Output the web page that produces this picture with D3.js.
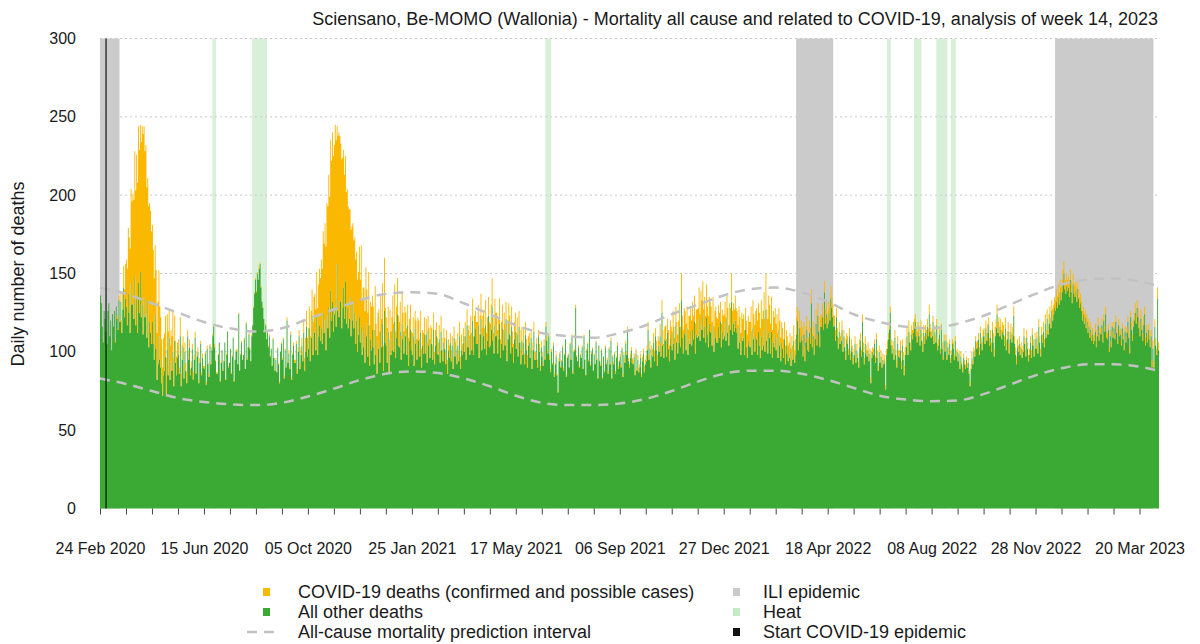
<!DOCTYPE html>
<html>
<head>
<meta charset="utf-8">
<script src="https://cdn.jsdelivr.net/npm/d3@7"></script>
<style>
  body { margin: 0; background: #fff; }
  svg { display: block; }
  text { font-family: "Liberation Sans", Arial, sans-serif; fill: #1a1a1a; }
</style>
</head>
<body>
<svg id="chart" width="1200" height="644"></svg>
<script>
// Be-MOMO Wallonia: daily deaths from Monday 24 Feb 2020, one row per week (Mon..Sun)
const startDate = "2020-02-24";

const otherDeaths = [
  136,131,116,106,126,121,113, 105,126,131,110,120,101,124, 116,126,106,129,121,114,133, 119,132,112,127,141,122,134,
  129,117,137,125,112,144,130, 131,121,148,117,136,112,144, 125,151,122,130,111,134,122, 124,109,133,103,119,112,105,
  119,105,95,124,102,82,92, 110,95,90,80,72,85,88, 97,72,102,85,109,82,94, 88,100,78,107,93,85,96,
  98,86,110,78,95,103,83, 100,88,80,110,95,103,85, 90,102,82,95,109,86,97, 100,80,93,105,85,96,90,
  89,99,79,102,92,84,104, 92,101,110,116,103,94,86, 86,98,106,81,93,101,88, 94,106,82,98,113,90,93,
  102,86,97,109,81,95,100, 101,92,124,88,98,106,95, 98,108,89,118,95,103,111, 102,94,110,117,128,137,146,
  138,150,146,153,156,141,132, 128,121,113,117,108,112,103, 110,97,102,91,108,96,88, 95,87,102,92,80,100,105,
  95,108,83,101,90,120,93, 99,89,111,82,98,104,93, 93,105,86,100,110,89,98, 104,94,112,88,100,116,97,
  102,115,94,109,121,98,112, 113,101,123,98,110,117,107, 115,105,125,112,120,101,123, 115,129,109,139,120,132,113,
  124,129,116,156,126,122,132, 133,115,128,141,121,145,118, 128,115,121,135,110,120,132, 115,125,105,120,100,111,122,
  106,116,98,113,103,93,118, 110,97,117,91,108,101,114, 103,92,114,98,86,107,102, 93,113,103,118,88,126,106,
  104,93,113,86,108,98,101, 114,100,119,96,109,124,104, 103,113,95,118,108,99,111, 110,98,117,91,107,114,101,
  98,110,91,115,105,95,108, 107,97,112,90,104,99,111, 99,111,93,114,104,96,107, 105,95,114,92,104,110,99,
  98,108,93,113,101,94,106, 102,92,108,86,101,96,106, 94,104,89,109,97,102,92, 104,94,110,89,101,98,106,
  100,110,95,117,103,108,98, 111,101,120,98,110,115,105, 105,117,96,111,121,101,110, 112,102,117,98,107,123,103,
  104,114,129,107,99,117,110, 111,99,108,118,96,105,115, 101,113,104,121,94,108,117, 111,99,116,103,93,108,113,
  102,111,97,116,106,92,107, 98,106,92,111,101,90,104, 106,96,109,89,101,113,95, 95,105,90,110,100,88,103,
  97,91,104,95,116,107,99, 110,95,87,100,92,104,84, 92,97,85,74,94,99,90, 94,103,88,98,108,84,96,
  98,90,105,95,110,86,100, 101,128,97,94,103,90,98, 96,103,89,110,95,85,101, 105,94,114,91,99,102,88,
  98,92,106,95,83,104,94, 91,101,83,97,87,103,92, 95,86,102,92,107,83,97, 92,99,86,96,104,89,94,
  97,90,102,84,98,93,105, 98,113,94,90,96,101,93, 92,97,85,99,88,95,87, 90,96,84,94,99,87,92,
  94,101,114,95,102,90,98, 97,106,94,110,101,91,104, 100,110,97,125,104,96,108, 107,97,112,102,94,109,104,
  101,113,105,95,117,106,99, 106,116,103,133,109,99,112, 111,101,115,98,108,105,113, 104,114,108,119,99,111,109,
  110,121,107,117,114,124,109, 116,106,122,111,103,118,113, 112,104,117,100,109,114,106, 106,116,109,119,103,113,108,
  110,119,107,122,112,104,117, 114,132,111,118,113,120,115, 112,102,116,106,98,110,107, 109,98,114,103,96,107,104,
  103,112,98,115,108,100,110, 108,98,113,104,96,110,101, 104,114,100,127,107,99,112, 109,99,113,96,106,103,111,
  101,109,96,114,104,94,106, 102,96,108,92,104,99,94, 96,103,91,100,95,107,93, 98,111,120,101,115,106,110,
  107,97,111,94,106,114,101, 100,112,105,131,103,110,98, 108,118,104,123,113,103,116, 116,122,114,138,118,124,115,
  118,125,120,134,128,122,116, 117,107,122,110,102,113,105, 107,114,100,110,103,95,108, 105,98,110,95,103,100,92,
  98,105,93,101,96,90,103, 107,97,119,100,92,105,99, 97,101,94,99,80,96,100, 98,105,93,108,96,88,100,
  93,97,90,95,92,94,76, 98,102,108,114,125,104,99, 102,95,109,98,90,105,97, 96,101,89,104,95,85,98,
  103,110,98,113,106,101,111, 108,112,115,119,110,106,113, 110,104,114,107,100,112,105, 112,108,116,110,124,113,109,
  110,119,105,113,106,117,101, 104,111,99,114,102,95,107, 100,107,95,103,98,105,93, 98,105,102,95,107,97,100,
  94,99,89,97,92,87,96, 92,89,95,90,93,86,78, 89,96,92,100,97,107,102, 103,108,98,112,105,101,110,
  110,105,115,107,112,117,104, 109,100,114,106,97,110,115, 124,112,116,110,114,108,113, 111,104,115,101,108,113,99,
  108,112,106,110,123,105,98, 92,103,100,105,98,102,96, 100,110,105,97,109,102,94, 98,106,96,111,104,97,108,
  102,109,99,116,106,97,111, 106,113,103,118,109,121,111, 118,122,115,126,120,124,128, 126,132,128,135,130,138,133,
  138,143,150,140,137,142,139, 141,135,146,138,131,143,137, 135,139,132,140,134,128,131, 126,120,124,118,122,115,119,
  112,116,109,114,107,111,105, 107,113,103,110,117,107,112, 111,117,106,120,113,124,109, 108,114,100,110,103,116,109,
  115,108,119,112,105,117,110, 111,104,115,108,101,113,106, 112,119,109,99,122,114,107, 116,120,125,118,128,122,115,
  110,121,114,107,117,124,104, 112,106,114,108,103,110,90, 102,90,116,104,98,134,101
];

const covidDeaths = [
  0,0,0,0,0,0,0, 0,0,0,0,0,0,0, 0,0,1,0,2,1,3, 4,6,8,11,14,18,22,
  30,36,42,48,54,60,66, 70,76,80,86,90,96,100, 104,94,112,114,128,110,106, 108,96,78,90,76,78,72,
  62,60,52,44,50,30,40, 42,34,32,28,18,24,24, 26,24,22,28,18,22,20, 22,26,18,16,14,12,10,
  10,4,12,8,9,7,9, 6,5,7,4,6,5,4, 4,3,5,3,4,2,3, 3,2,3,2,2,3,1,
  2,1,2,2,1,2,1, 1,2,1,1,2,1,1, 1,1,0,1,1,0,1, 1,0,1,1,0,1,0,
  0,1,1,0,1,0,1, 1,0,1,0,1,1,0, 0,1,0,1,1,0,1, 1,0,1,0,1,1,1,
  1,1,0,2,1,1,0, 1,0,1,1,0,1,1, 1,1,0,1,1,0,1, 1,0,1,1,1,0,1,
  1,1,2,1,1,2,1, 2,1,2,2,1,2,2, 2,2,3,3,4,4,5, 5,6,7,8,9,10,12,
  13,14,16,17,19,21,23, 24,26,28,30,33,36,40, 44,48,52,57,62,66,72, 78,84,90,96,102,108,112,
  108,116,119,88,112,118,106, 100,108,96,88,92,80,84, 76,78,70,56,68,60,50, 56,48,54,44,46,40,45,
  40,52,36,28,38,33,36, 30,28,34,26,24,28,22, 26,22,28,20,24,18,25, 20,24,18,26,16,34,22,
  18,22,16,20,19,15,21, 22,18,24,17,20,23,19, 16,19,15,21,17,14,18, 15,17,13,18,14,16,12,
  14,12,16,11,15,13,14, 13,11,14,12,10,13,11, 12,10,13,9,11,12,10, 10,9,11,8,10,9,10,
  8,9,7,10,8,7,9, 7,8,6,9,7,8,6, 7,6,8,7,9,6,7, 8,7,9,8,10,7,9,
  10,9,12,10,11,9,12, 12,11,14,12,13,11,14, 14,13,15,12,16,14,13, 15,13,16,14,15,12,16,
  14,16,18,15,13,17,15, 14,15,13,16,12,14,15, 13,12,14,11,13,12,14, 12,11,13,10,12,11,12,
  10,11,9,10,8,10,9, 8,9,7,8,7,8,6, 6,7,5,6,5,6,5, 5,4,5,4,5,3,4,
  3,3,4,2,3,3,2, 2,3,2,2,1,2,2, 1,2,1,1,2,1,1, 1,1,2,1,0,1,1,
  1,0,1,1,1,2,1, 1,2,1,0,1,1,1, 0,1,1,1,0,1,1, 1,1,0,1,1,1,0,
  1,0,1,1,1,0,1, 1,1,1,0,1,1,1, 1,2,1,1,2,1,1, 2,1,2,1,2,2,1,
  2,2,1,2,2,3,2, 2,3,2,2,3,2,3, 3,2,3,3,2,3,3, 2,3,2,3,3,4,3,
  4,3,5,4,5,4,6, 5,6,7,5,6,7,6, 7,8,9,8,10,9,8, 10,11,9,12,10,11,12,
  12,13,11,14,12,13,12, 14,15,13,17,14,15,16, 15,17,14,16,15,18,16, 16,18,15,17,19,16,18,
  18,20,17,22,19,21,18, 19,17,21,18,20,17,19, 17,15,18,16,17,15,16, 15,14,16,13,15,14,15,
  14,13,15,14,16,13,14, 14,18,15,13,14,16,13, 14,15,13,16,14,15,14, 15,16,14,17,15,16,15,
  16,17,15,18,16,17,16, 20,22,18,21,19,23,20, 22,24,21,23,20,22,24, 21,19,22,18,20,19,17,
  17,15,16,14,16,15,13, 13,12,11,12,10,11,10, 10,9,11,10,9,10,8, 10,11,9,10,11,9,10,
  9,10,8,9,10,9,8, 9,8,10,9,8,9,10, 8,9,7,8,9,8,7, 8,9,8,7,9,8,7,
  8,7,9,8,7,8,7, 6,7,6,5,7,6,5, 5,6,5,4,6,5,4, 5,4,5,4,5,4,4,
  4,5,4,4,3,4,5, 5,4,5,6,4,5,5, 4,5,4,3,4,4,3, 4,3,4,4,5,3,4,
  4,4,3,4,3,4,3, 4,5,4,5,4,4,5, 5,4,5,4,5,5,4, 5,6,5,4,5,6,5,
  6,5,6,7,6,5,6, 6,7,6,5,6,7,6, 6,5,6,5,6,5,5, 5,6,5,5,6,5,4,
  5,4,5,4,5,4,4, 4,4,3,4,4,3,4, 3,4,3,3,4,3,3, 3,3,4,3,3,3,2,
  3,2,3,3,2,3,3, 3,3,2,3,3,2,3, 3,4,3,3,4,3,4, 4,4,5,4,4,5,4,
  5,4,5,5,6,5,5, 5,6,5,6,5,6,6, 6,7,6,6,7,6,6, 6,6,7,6,5,6,6,
  5,6,5,6,6,5,5, 5,5,4,5,5,4,5, 4,5,4,4,5,4,4, 4,4,5,4,4,5,4,
  5,4,5,5,4,5,5, 5,6,5,6,5,6,6, 6,7,6,7,7,6,7, 7,8,7,8,7,8,8,
  8,9,8,7,8,8,7, 7,8,7,7,6,7,7, 7,6,7,6,6,7,6, 6,6,5,6,5,6,5,
  5,5,4,5,5,4,5, 4,5,4,4,5,4,4, 4,4,5,4,4,5,4, 4,4,3,4,4,3,4,
  4,3,4,4,3,4,4, 4,4,3,4,4,3,4, 4,4,5,4,4,5,4, 5,5,6,5,5,6,5,
  5,6,5,5,6,5,5, 5,5,4,5,5,4,5, 5,4,5,5,4,7,5
];

// All-cause mortality prediction interval, sampled every four weeks (days since start)
const predictionDays  = [0,28,56,84,112,140,168,196,224,252,280,308,336,364,392,420,448,476,504,532,560,588,616,644,672,700,728,756,784,812,840,868,896,924,952,980,1008,1036,1064,1092,1120,1140];
const predictionUpper = [141,137,131,125,119,115,113,115,121,127,133,137,138,137,131,124,117,112,110,109,112,117,124,130,136,140,141,138,132,124,119,116,115,118,123,130,137,143,146,147,145,142];
const predictionLower = [83,79.5,75,70.5,68,66.5,66,67.5,71.5,76.5,82,86,87.5,86.5,83,78,72,67.5,66,66,67,70,75,81,86,88,88,86,82,77,72,69.5,68.5,69,73,79,85,89.5,92,92,90.5,88];

const iliPeriods = [["2020-02-24","2020-03-16"],["2022-03-15","2022-04-24"],["2022-12-19","2023-04-04"]];
const heatPeriods = [["2020-06-24","2020-06-28"],["2020-08-06","2020-08-22"],["2021-06-18","2021-06-24"],
                     ["2022-06-21","2022-06-25"],["2022-07-20","2022-07-28"],["2022-08-13","2022-08-25"],["2022-08-29","2022-09-03"]];
const covidStart = "2020-03-01";

const yTicks = [0,50,100,150,200,250,300];
const xLabelDates = ["2020-02-24","2020-06-15","2020-10-05","2021-01-25","2021-05-17","2021-09-06","2021-12-27","2022-04-18","2022-08-08","2022-11-28","2023-03-20"];

const titleText = "Sciensano, Be-MOMO (Wallonia) - Mortality all cause and related to COVID-19, analysis of week 14, 2023";
const yLabel = "Daily number of deaths";
const legendLeft = ["COVID-19 deaths (confirmed and possible cases)", "All other deaths", "All-cause mortality prediction interval"];
const legendRight = ["ILI epidemic", "Heat", "Start COVID-19 epidemic"];

const colors = { covid: "#fbb800", other: "#3aaa35", ili: "#cbcbcb", heat: "#d8efd8", heatKey: "#c2ebc2", pred: "#c2c2c2", start: "#111" };

// ---- scales ----
const parse = d3.utcParse("%Y-%m-%d");
const t0 = parse(startDate);
const rows = otherDeaths.map((v, i) => ({ date: d3.utcDay.offset(t0, i), other: v, covid: covidDeaths[i] }));
const tEnd = d3.utcDay.offset(t0, rows.length);

const x = d3.scaleUtc().domain([t0, tEnd]).range([100, 1159]);
const y = d3.scaleLinear().domain([0, 300]).range([508.5, 38.5]);

const svg = d3.select("#chart");

// ---- epidemic / heat periods ----
const bands = svg.append("g");
bands.selectAll("rect.ili").data(iliPeriods).join("rect")
  .attr("x", d => x(parse(d[0]))).attr("width", d => x(parse(d[1])) - x(parse(d[0])))
  .attr("y", y(300)).attr("height", y(0) - y(300)).attr("fill", colors.ili);
bands.selectAll("rect.heat").data(heatPeriods).join("rect")
  .attr("x", d => x(parse(d[0]))).attr("width", d => x(parse(d[1])) - x(parse(d[0])))
  .attr("y", y(300)).attr("height", y(0) - y(300)).attr("fill", colors.heat);

// ---- grid ----
svg.append("g").selectAll("line").data(yTicks.filter(v => v > 0)).join("line")
  .attr("x1", 100).attr("x2", 1160).attr("y1", d => y(d)).attr("y2", d => y(d))
  .attr("stroke", "#c8c8c8").attr("stroke-width", 1).attr("stroke-dasharray", "2,3");

// ---- stacked daily deaths ----
const stepRows = rows.concat([{ ...rows[rows.length - 1], date: tEnd }]);
const stacked = d3.stack().keys(["other", "covid"])(stepRows);
const area = d3.area().curve(d3.curveStepAfter)
  .x(d => x(d.data.date)).y0(d => y(d[0])).y1(d => y(d[1]));
svg.append("g").selectAll("path").data(stacked).join("path")
  .attr("d", area)
  .attr("fill", d => d.key === "covid" ? colors.covid : colors.other);

// ---- prediction interval ----
const predLine = d3.line().curve(d3.curveMonotoneX)
  .x(d => x(d3.utcDay.offset(t0, d[0]))).y(d => y(d[1]));
[predictionUpper, predictionLower].forEach(series => {
  svg.append("path")
    .attr("d", predLine(predictionDays.map((dd, i) => [dd, series[i]])))
    .attr("fill", "none").attr("stroke", colors.pred)
    .attr("stroke-width", 2.5).attr("stroke-dasharray", "10,7");
});

// ---- start of COVID-19 epidemic ----
const startX = x(d3.utcHour.offset(parse(covidStart), 12));
svg.append("line").attr("x1", startX).attr("x2", startX)
  .attr("y1", y(300)).attr("y2", y(0))
  .attr("stroke", colors.start).attr("stroke-width", 1.2);

// ---- axes ----
const labelSet = new Set(xLabelDates);
const tickDates = d3.range(0, rows.length, 28).map(i => d3.utcDay.offset(t0, i));
const fmtKey = d3.utcFormat("%Y-%m-%d");
const fmtLabel = d3.utcFormat("%d %b %Y");
const xAxis = svg.append("g").attr("transform", `translate(0,${y(0)})`)
  .call(d3.axisBottom(x).tickValues(tickDates).tickSize(6).tickPadding(28)
    .tickFormat(d => labelSet.has(fmtKey(d)) ? fmtLabel(d) : ""));
xAxis.select(".domain").remove();
xAxis.selectAll(".tick line").attr("stroke", "#444");
xAxis.selectAll("text").attr("font-size", 16).attr("fill", "#1a1a1a");

const yAxis = svg.append("g").attr("transform", "translate(100,0)")
  .call(d3.axisLeft(y).tickValues(yTicks).tickSize(0).tickPadding(24));
yAxis.select(".domain").remove();
yAxis.selectAll("text").attr("font-size", 16).attr("fill", "#1a1a1a");

// ---- labels ----
svg.append("text").attr("x", 1158).attr("y", 25).attr("text-anchor", "end")
  .attr("font-size", 18).text(titleText);
svg.append("text").attr("transform", "translate(24,274) rotate(-90)")
  .attr("text-anchor", "middle").attr("font-size", 18).text(yLabel);

// ---- legend ----
const rowY = [592, 612, 632];
const leg = svg.append("g");
leg.append("rect").attr("x", 263).attr("y", rowY[0] - 4).attr("width", 7).attr("height", 8).attr("fill", colors.covid);
leg.append("rect").attr("x", 263).attr("y", rowY[1] - 4).attr("width", 7).attr("height", 8).attr("fill", colors.other);
leg.append("line").attr("x1", 247).attr("x2", 279).attr("y1", rowY[2]).attr("y2", rowY[2])
  .attr("stroke", colors.pred).attr("stroke-width", 2.5).attr("stroke-dasharray", "10,7");
leg.selectAll("text.l").data(legendLeft).join("text")
  .attr("x", 298).attr("y", (d, i) => rowY[i] + 6).attr("font-size", 18).text(d => d);
[colors.ili, colors.heatKey, colors.start].forEach((c, i) => {
  leg.append("rect").attr("x", 733).attr("y", rowY[i] - 4).attr("width", 7).attr("height", 8).attr("fill", c);
});
leg.selectAll("text.r").data(legendRight).join("text")
  .attr("x", 763).attr("y", (d, i) => rowY[i] + 6).attr("font-size", 18).text(d => d);
</script>
</body>
</html>
